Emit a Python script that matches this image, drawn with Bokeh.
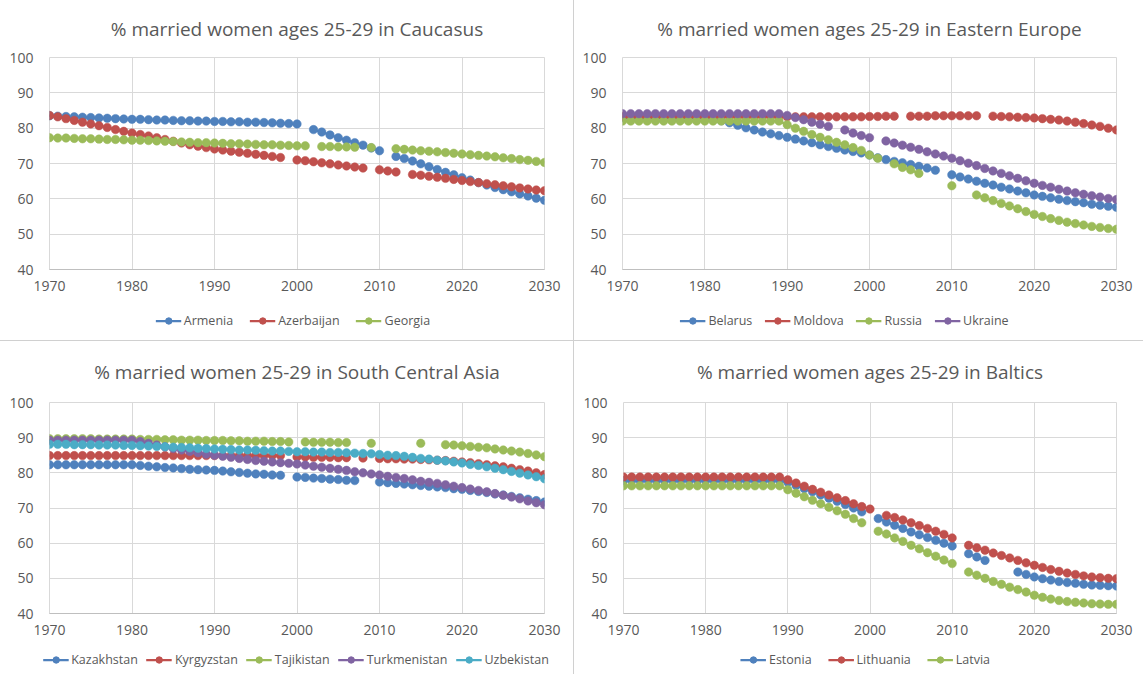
import numpy as np
from bokeh.plotting import figure
from bokeh.layouts import column, row
from bokeh.models import Legend, LegendItem, FixedTicker, Range1d, Title
from bokeh.embed import file_html
from bokeh.resources import INLINE

N = None
years = list(range(1970, 2031))

# ---------- Caucasus ----------
armenia = [83.5, 83.4, 83.3, 83.2, 83.1, 83.0, 82.9, 82.8, 82.7, 82.6,
           82.5, 82.5, 82.4, 82.3, 82.3, 82.2, 82.1, 82.1, 82.0, 82.0,
           81.9, 81.9, 81.8, 81.8, 81.7, 81.7, 81.6, 81.5, 81.4, 81.3,
           81.2, N, 79.6, 78.9, 78.1, 77.3, 76.6, 75.9, 75.2, 74.4,
           73.6, N, 72.0, 71.4, 70.7, 69.9, 69.1, 68.3, 67.5, 66.8,
           66.0, 65.3, 64.6, 63.9, 63.2, 62.6, 62.0, 61.4, 60.8, 60.2,
           59.6]
azerbaijan = [83.6, 83.2, 82.7, 82.2, 81.7, 81.2, 80.7, 80.2, 79.6, 79.1,
              78.6, 78.2, 77.8, 77.3, 76.8, 76.3, 75.8, 75.3, 74.9, 74.5,
              74.1, 73.8, 73.5, 73.2, 72.9, 72.6, 72.3, 72.0, 71.7, N,
              71.0, 70.8, 70.5, 70.2, 69.9, 69.6, 69.3, 69.0, 68.7, N,
              68.2, 67.9, 67.6, N, 66.9, 66.7, 66.4, 66.1, 65.8, 65.5,
              65.2, 64.9, 64.6, 64.3, 64.0, 63.7, 63.4, 63.1, 62.8, 62.5,
              62.3]
georgia = [77.3, 77.2, 77.2, 77.1, 77.0, 77.0, 76.9, 76.8, 76.8, 76.7,
           76.6, 76.6, 76.5, 76.4, 76.3, 76.2, 76.1, 76.0, 75.9, 75.9,
           75.8, 75.7, 75.6, 75.6, 75.5, 75.4, 75.3, 75.3, 75.2, 75.1,
           75.0, 75.0, N, 74.8, 74.8, 74.7, 74.7, 74.6, N, 74.5,
           N, N, 74.2, 74.0, 73.8, 73.6, 73.5, 73.3, 73.1, 72.9,
           72.7, 72.5, 72.3, 72.1, 71.9, 71.6, 71.4, 71.1, 70.9, 70.6,
           70.3]

# ---------- Eastern Europe ----------
belarus = [83.0, 83.0, 83.0, 83.0, 83.0, 83.0, 83.0, 83.0, 83.0, 83.0,
           83.0, 82.6, 82.1, 81.5, 80.8, 80.1, 79.5, 78.9, 78.4, 77.9,
           77.4, 76.9, 76.4, 75.9, 75.3, 74.8, 74.3, 73.8, 73.4, 73.0,
           72.4, 71.6, 71.1, 70.6, 70.2, 69.7, 69.2, 68.7, 68.1, N,
           66.8, 66.2, 65.6, 65.0, 64.4, 63.9, 63.3, 62.8, 62.2, 61.7,
           61.1, 60.7, 60.3, 59.9, 59.5, 59.2, 58.9, 58.5, 58.2, 57.9,
           57.6]
moldova = [83.3, 83.3, 83.3, 83.3, 83.3, 83.3, 83.3, 83.3, 83.3, 83.3,
           83.3, 83.3, 83.3, 83.3, 83.3, 83.3, 83.3, 83.3, 83.3, 83.3,
           83.2, 83.2, 83.2, 83.2, 83.2, 83.2, 83.2, 83.2, 83.2, 83.2,
           83.3, 83.3, 83.4, 83.4, N, 83.4, 83.4, 83.4, 83.5, 83.5,
           83.5, 83.5, 83.5, 83.5, N, 83.4, 83.3, 83.2, 83.1, 83.0,
           82.9, 82.7, 82.5, 82.3, 82.0, 81.7, 81.3, 80.9, 80.5, 80.0,
           79.5]
russia = [82.0, 82.0, 82.0, 82.0, 82.0, 82.0, 82.0, 82.0, 82.0, 82.0,
          82.0, 82.0, 82.0, 82.0, 82.0, 82.0, 82.0, 82.0, 82.0, 82.0,
          81.0, 80.0, 79.1, 78.2, 77.4, 76.7, 76.0, 75.3, 74.5, 73.7,
          72.4, 71.5, N, 69.9, 68.9, 68.2, 67.2, N, N, N,
          63.7, N, N, 61.1, 60.3, 59.5, 58.7, 58.0, 57.2, 56.4,
          55.6, 55.0, 54.4, 53.9, 53.4, 53.0, 52.6, 52.2, 51.9, 51.6,
          51.4]
ukraine = [84.1, 84.1, 84.1, 84.1, 84.1, 84.1, 84.1, 84.1, 84.1, 84.1,
           84.1, 84.1, 84.1, 84.1, 84.1, 84.1, 84.1, 84.1, 84.1, 84.1,
           83.6, 83.0, 82.4, 81.7, 81.1, 80.5, N, 79.5, 78.6, 77.9,
           77.3, N, 76.4, 75.8, 75.2, 74.6, 74.0, 73.3, 72.7, 72.1,
           71.5, 70.8, 70.1, 69.4, 68.6, 67.9, 67.2, 66.5, 65.8, 65.1,
           64.4, 63.8, 63.3, 62.7, 62.2, 61.7, 61.3, 60.9, 60.5, 60.1,
           59.8]

# ---------- South Central Asia ----------
kazakhstan = [82.3, 82.3, 82.3, 82.3, 82.3, 82.3, 82.3, 82.3, 82.3, 82.3,
              82.3, 82.1, 81.9, 81.7, 81.5, 81.4, 81.2, 81.0, 80.9, 80.8,
              80.7, 80.5, 80.3, 80.1, 79.9, 79.7, 79.6, 79.4, 79.3, N,
              78.8, 78.7, 78.5, 78.4, 78.2, 78.1, 77.9, 77.8, N, N,
              77.4, 77.2, 77.0, 76.8, 76.6, 76.4, 76.2, 76.0, 75.8, 75.5,
              75.3, 75.0, 74.7, 74.4, 74.0, 73.7, 73.3, 72.9, 72.5, 72.1,
              71.7]
kyrgyzstan = [84.9, 84.9, 84.9, 84.9, 84.9, 84.9, 84.9, 84.9, 84.9, 84.9,
              84.9, 84.9, 84.9, 84.9, 84.9, 84.9, 84.9, 84.9, 84.9, 84.9,
              84.9, 84.9, 84.9, 84.9, 84.9, 84.9, 84.9, 84.9, 84.9, N,
              84.5, 84.5, 84.4, 84.4, 84.4, 84.3, 84.3, N, 84.2, N,
              84.1, 84.0, 84.0, 83.9, 83.9, 83.8, 83.7, 83.6, 83.5, 83.3,
              83.1, 82.9, 82.6, 82.3, 82.0, 81.7, 81.3, 80.9, 80.5, 80.0,
              79.5]
tajikistan = [89.7, 89.7, 89.7, 89.7, 89.7, 89.7, 89.6, 89.6, 89.6, 89.6,
              89.6, 89.5, 89.5, 89.5, 89.4, 89.4, 89.3, 89.3, 89.3, 89.2,
              89.2, 89.2, 89.1, 89.1, 89.0, 89.0, 89.0, 88.9, 88.9, 88.8,
              N, 88.8, 88.7, 88.7, 88.7, 88.6, 88.6, N, N, 88.4,
              N, N, N, N, N, 88.4, N, N, 88.0, 87.9,
              87.7, 87.5, 87.3, 87.1, 86.8, 86.5, 86.2, 85.9, 85.5, 85.1,
              84.6]
turkmenistan = [89.3, 89.3, 89.3, 89.3, 89.3, 89.3, 89.3, 89.3, 89.3, 89.3,
                89.3, 88.9, 88.4, 87.9, 87.4, 86.9, 86.5, 86.1, 85.7, 85.3,
                85.0, 84.7, 84.4, 84.1, 83.8, 83.5, 83.3, 83.1, 82.9, 82.7,
                82.5, 82.2, 81.9, 81.6, 81.3, 81.0, 80.7, 80.3, 80.0, 79.7,
                79.4, 79.0, 78.7, 78.4, 78.0, 77.6, 77.3, 77.0, 76.6, 76.2,
                75.8, 75.4, 75.0, 74.6, 74.1, 73.6, 73.1, 72.6, 72.0, 71.5,
                70.9]
uzbekistan = [88.1, 88.1, 88.1, 88.0, 88.0, 88.0, 87.9, 87.9, 87.9, 87.8,
              87.8, 87.7, 87.6, 87.5, 87.4, 87.3, 87.2, 87.1, 87.0, 86.9,
              86.8, 86.7, 86.6, 86.5, 86.5, 86.4, 86.3, 86.2, 86.2, 86.1,
              86.0, 86.0, 85.9, 85.9, 85.8, 85.8, 85.7, 85.6, 85.5, 85.4,
              85.2, 85.0, 84.9, 84.7, 84.4, 84.1, 83.9, 83.6, 83.4, 83.1,
              82.8, 82.4, 82.1, 81.7, 81.3, 80.9, 80.4, 79.9, 79.4, 78.9,
              78.3]

# ---------- Baltics ----------
estonia = [77.8, 77.8, 77.8, 77.8, 77.8, 77.8, 77.8, 77.8, 77.8, 77.8,
           77.8, 77.8, 77.8, 77.8, 77.8, 77.8, 77.8, 77.8, 77.8, 77.8,
           77.3, 76.4, 75.5, 74.6, 73.7, 72.8, 71.9, 71.0, 70.0, 68.9,
           N, 67.0, 66.0, 65.1, 64.2, 63.2, 62.4, 61.6, 60.8, 60.0,
           59.2, N, 57.0, 56.1, 55.1, N, N, N, 51.8, 51.1,
           50.4, 49.9, 49.5, 49.1, 48.8, 48.6, 48.3, 48.1, 48.0, 47.9,
           47.8]
lithuania = [78.8, 78.8, 78.8, 78.8, 78.8, 78.8, 78.8, 78.8, 78.8, 78.8,
             78.8, 78.8, 78.8, 78.8, 78.8, 78.8, 78.8, 78.8, 78.8, 78.8,
             78.0, 77.1, 76.2, 75.3, 74.5, 73.7, 72.9, 72.1, 71.2, 70.4,
             69.7, N, 67.9, 67.3, 66.6, 65.8, 65.0, 64.2, 63.4, 62.5,
             61.5, N, 59.4, 58.7, 58.0, 57.2, 56.5, 55.8, 55.1, 54.4,
             53.7, 53.1, 52.5, 52.0, 51.5, 51.1, 50.7, 50.4, 50.2, 50.0,
             49.9]
latvia = [76.3, 76.3, 76.3, 76.3, 76.3, 76.3, 76.3, 76.3, 76.3, 76.3,
          76.3, 76.3, 76.3, 76.3, 76.3, 76.3, 76.3, 76.3, 76.3, 76.3,
          75.2, 74.2, 73.2, 72.2, 71.2, 70.2, 69.2, 68.2, 67.0, 65.8,
          N, 63.4, 62.6, 61.5, 60.5, 59.4, 58.4, 57.3, 56.3, 55.2,
          54.2, N, 51.8, 50.9, 50.0, 49.1, 48.3, 47.5, 46.8, 46.1,
          45.2, 44.6, 44.1, 43.7, 43.4, 43.2, 43.0, 42.8, 42.7, 42.6,
          42.6]

BLUE, RED, GREEN, PURPLE, CYAN = "#4F81BD", "#C0504D", "#9BBB59", "#8064A2", "#4BACC6"
TXT = "#595959"
GRID = "#D9D9D9"
EDGE = "#D0D0D0"
FONT = "Open Sans"


def arr(v):
    return np.array([np.nan if x is None else x for x in v], dtype=float)


def chart(title, series, width, height, bl, br, bt, bb, standoff, styles=None):
    p = figure(width=width, height=height, x_range=Range1d(1970, 2030), y_range=Range1d(40, 100),
               output_backend="svg", toolbar_location=None,
               min_border_left=bl, min_border_right=br, min_border_top=bt, min_border_bottom=bb,
               background_fill_color="white", border_fill_color=None,
               outline_line_color=GRID, styles=styles or {})
    p.title = Title(text=title, align="center", vertical_align="top", text_font=FONT,
                    text_font_size="19px", text_font_style="normal", text_color=TXT,
                    standoff=standoff)
    ticks_x = list(range(1970, 2031, 10))
    ticks_y = list(range(40, 101, 10))
    p.xaxis.ticker = FixedTicker(ticks=ticks_x)
    p.yaxis.ticker = FixedTicker(ticks=ticks_y)
    p.xgrid.ticker = FixedTicker(ticks=ticks_x)
    p.ygrid.ticker = FixedTicker(ticks=ticks_y)
    p.grid.grid_line_color = GRID
    p.grid.grid_line_width = 1
    for ax in (p.xaxis, p.yaxis):
        ax.major_tick_line_color = None
        ax.minor_tick_line_color = None
        ax.major_label_text_color = TXT
        ax.major_label_text_font = FONT
        ax.major_label_text_font_size = "14px"
    p.xaxis.axis_line_color = "#BFBFBF"
    p.yaxis.axis_line_color = None
    p.xaxis.major_label_standoff = 5
    p.yaxis.major_label_standoff = 10
    x = np.array(years, dtype=float)
    for name, vals, col in series:
        y = arr(vals)
        p.line(x, y, line_color=col, line_width=2.25)
        p.scatter(x, y, size=8.5, fill_color=col, line_color=col, line_width=0.5)
    return p


def legend_fig(series, width, height, bl, br, spacing, styles=None):
    q = figure(width=width, height=height, x_range=Range1d(0, 1), y_range=Range1d(0, 1),
               output_backend="svg", toolbar_location=None, x_axis_type=None, y_axis_type=None,
               min_border_left=bl, min_border_right=br, min_border_top=0, min_border_bottom=0,
               background_fill_color=None, border_fill_color=None, outline_line_color=None,
               styles=styles or {})
    q.grid.visible = False
    items = []
    for name, vals, col in series:
        # swatch renderers sit outside the visible range; they only feed the legend glyphs
        lr = q.line([-5, -4], [-5, -4], line_color=col, line_width=2.25)
        sr = q.scatter([-5], [-5], size=8.5, fill_color=col, line_color=col)
        items.append(LegendItem(label=name, renderers=[lr, sr]))
    leg = Legend(items=items, orientation="horizontal", location="center",
                 background_fill_alpha=0, border_line_color=None,
                 label_text_font=FONT, label_text_font_size="12.5px", label_text_color=TXT,
                 glyph_width=26, glyph_height=16, spacing=spacing, padding=0, margin=0,
                 label_standoff=3, label_height=16)
    q.add_layout(leg, "center")
    return q


s1 = [("Armenia", armenia, BLUE), ("Azerbaijan", azerbaijan, RED), ("Georgia", georgia, GREEN)]
s2 = [("Belarus", belarus, BLUE), ("Moldova", moldova, RED), ("Russia", russia, GREEN),
      ("Ukraine", ukraine, PURPLE)]
s3 = [("Kazakhstan", kazakhstan, BLUE), ("Kyrgyzstan", kyrgyzstan, RED), ("Tajikistan", tajikistan, GREEN),
      ("Turkmenistan", turkmenistan, PURPLE), ("Uzbekistan", uzbekistan, CYAN)]
s4 = [("Estonia", estonia, BLUE), ("Lithuania", lithuania, RED), ("Latvia", latvia, GREEN)]

LEFT = {"box-shadow": "inset 1px 0 0 " + EDGE}
TOP = {"box-shadow": "inset 0 1px 0 " + EDGE}
TOPLEFT = {"box-shadow": "inset 1px 1px 0 " + EDGE}

c1 = chart("% married women ages 25-29 in Caucasus", s1, 573, 300, 49, 29, 57, 31, 28)
l1 = legend_fig(s1, 573, 40, 12, 0, 16)
c2 = chart("% married women ages 25-29 in Eastern Europe", s2, 570, 300, 49, 27, 57, 31, 28, styles=LEFT)
l2 = legend_fig(s2, 570, 40, 0, 28, 12, styles=LEFT)
c3 = chart("% married women 25-29 in South Central Asia", s3, 573, 304, 49, 29, 62, 31, 31, styles=TOP)
l3 = legend_fig(s3, 573, 30, 18, 0, 8)
c4 = chart("% married women ages 25-29 in Baltics", s4, 570, 304, 50, 27, 62, 31, 31, styles=TOPLEFT)
l4 = legend_fig(s4, 570, 30, 14, 0, 16, styles=LEFT)

layout = column(row(column(c1, row(l1)), column(c2, row(l2))),
                row(column(c3, row(l3)), column(c4, row(l4))))
open("out.html", "w").write(file_html(layout, INLINE))
